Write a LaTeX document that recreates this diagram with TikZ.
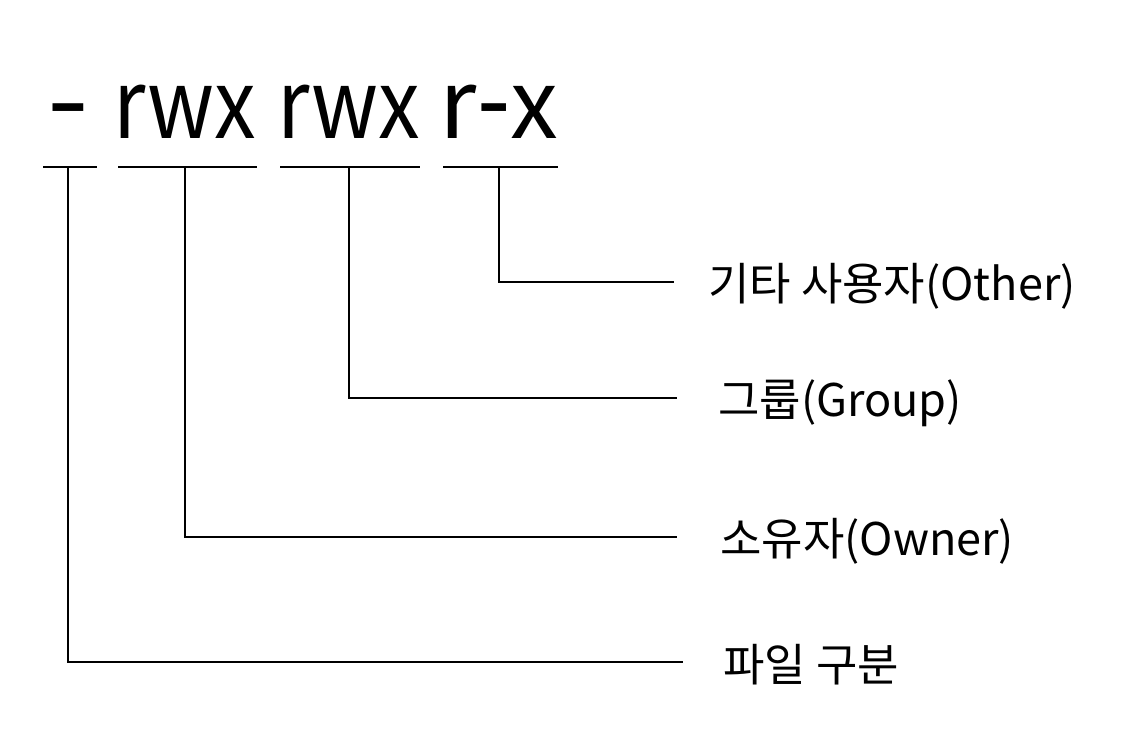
\documentclass[tikz,border=0pt]{standalone}
\usepackage{fontspec}
\setmainfont{Noto Sans CJK KR}
\tikzset{
  perm/.style = {font=\fontsize{96}{100}\selectfont, anchor=base, inner sep=0},
  lbl/.style = {font=\fontsize{45}{48}\selectfont, anchor=base west, inner sep=0},
  wire/.style = {line width=2.4pt}
}
\newcommand{\narrow}[1]{\scalebox{0.87}[1]{#1}}
\newcommand{\bardash}{\scalebox{1.25}[1.15]{-}}
\begin{document}
\begin{tikzpicture}[x=1pt, y=-1pt]
\useasboundingbox (0,0) rectangle (1145,750);
% permission string
\node[perm] at (68,138) (typ) {\bardash};
\node[perm] at (185,138) (own) {\narrow{rwx}};
\node[perm] at (349,138) (grp) {\narrow{rwx}};
\node[perm] at (499,138) (oth) {r\scalebox{1}[1.15]{-}x};
% underlines
\coordinate (typL) at (43,167);
\coordinate (typR) at (97,167);
\coordinate (ownL) at (118,167);
\coordinate (ownR) at (257,167);
\coordinate (grpL) at (280,167);
\coordinate (grpR) at (420,167);
\coordinate (othL) at (443,167);
\coordinate (othR) at (558,167);
\draw[wire] (typL) -- (typR);
\draw[wire] (ownL) -- (ownR);
\draw[wire] (grpL) -- (grpR);
\draw[wire] (othL) -- (othR);
% labels
\node[lbl] at (708,300) (othLbl) {기타 사용자(Other)};
\node[lbl] at (718,416) (grpLbl) {그룹(Group)};
\node[lbl] at (720,555) (ownLbl) {소유자(Owner)};
\node[lbl] at (723,681) (typLbl) {파일 구분};
\coordinate (othE) at (674,282);
\coordinate (grpE) at (677,398);
\coordinate (ownE) at (677,537);
\coordinate (typE) at (683,662);
\draw[wire] (othL -| oth) |- (othE);
\draw[wire] (grpL -| grp) |- (grpE);
\draw[wire] (ownL -| own) |- (ownE);
\draw[wire] (typL -| typ) |- (typE);
\end{tikzpicture}
\end{document}
